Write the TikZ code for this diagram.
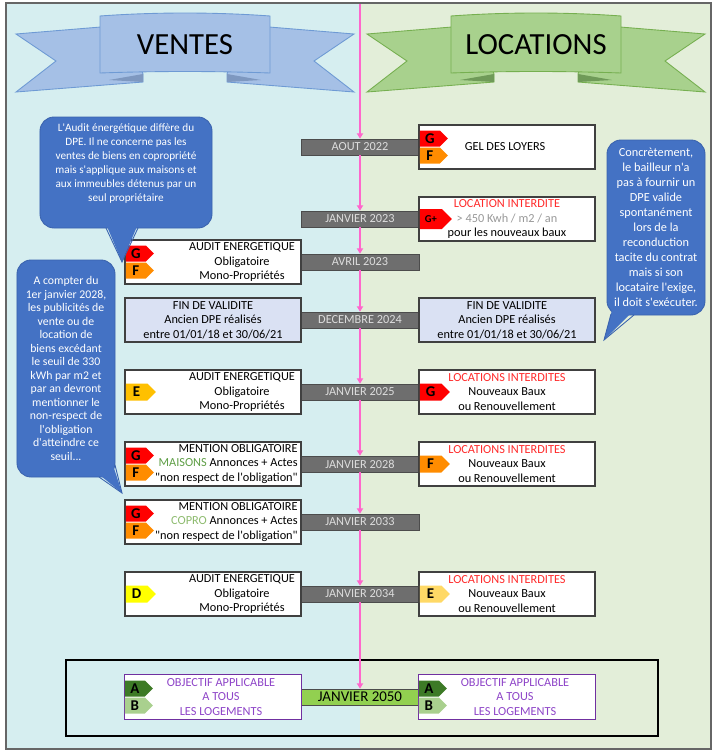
\documentclass[tikz,border=0pt]{standalone}
\usepackage{fontspec}
\setmainfont{Carlito}[Ligatures=TeXOff]
\usetikzlibrary{arrows.meta,calc,shapes.symbols}
\definecolor{fondV}{HTML}{D6EEF0}
\definecolor{fondL}{HTML}{E3EED9}
\definecolor{rubanV}{HTML}{A5C0E6}
\definecolor{rubanVb}{HTML}{6E9AD4}
\definecolor{rubanVs}{HTML}{7E98C0}
\definecolor{rubanL}{HTML}{A8D18D}
\definecolor{rubanLb}{HTML}{76AF50}
\definecolor{rubanLs}{HTML}{6F9A58}
\definecolor{bleubulle}{HTML}{4472C4}
\definecolor{bleubord}{HTML}{3A63AE}
\definecolor{rose}{HTML}{FF66CC}
\definecolor{grisbarre}{HTML}{6E6E6E}
\definecolor{grisclair}{HTML}{DDDDDD}
\definecolor{lavande}{HTML}{DAE1F3}
\definecolor{classeG}{HTML}{FF0000}
\definecolor{classeF}{HTML}{FF8C00}
\definecolor{classeE}{HTML}{FFC000}
\definecolor{classeEc}{HTML}{FFD966}
\definecolor{classeD}{HTML}{FFFF00}
\definecolor{classeA}{HTML}{3D7A26}
\definecolor{classeB}{HTML}{A9D08E}
\definecolor{violetobj}{HTML}{7030A0}
\definecolor{violettxt}{HTML}{8E44C8}
\definecolor{rouge}{HTML}{FF2A2A}
\definecolor{vertM}{HTML}{5E9E45}
\definecolor{vertC}{HTML}{8DBB6E}
\definecolor{vert50}{HTML}{92D050}
\tikzset{
  fiche/.style={draw=black!75,fill=white,line width=0.6pt,minimum width=35.2mm,minimum height=8.8mm,inner sep=0pt},
  objectif/.style={fiche,draw=violetobj,line width=1.1pt,minimum width=35.4mm,minimum height=9mm},
  texte/.style={align=center,font=\fontsize{7}{8.2}\selectfont,inner sep=0pt},
  barredate/.style={draw=black!70,fill=grisbarre,text=grisclair,minimum width=23.6mm,minimum height=3.2mm,
                    inner sep=0pt,font=\fontsize{7}{7}\selectfont},
  classe/.style={signal,signal to=east,signal pointer angle=90,anchor=west,minimum width=5.6mm,minimum height=3.2mm,
                 inner sep=0pt,font=\fontsize{8.5}{8.5}\selectfont\bfseries},
  seule/.style={minimum width=6mm,minimum height=3.4mm},
  bulle/.style={fill=bleubulle,draw=bleubord,line width=0.5pt,rounded corners=2.8mm,text=white,align=center,inner sep=0pt},
  fleche/.style={rose,line width=0.7pt,-{Triangle[length=3pt,width=3.5pt]}},
}
\begin{document}
\begin{tikzpicture}[x=0.2mm,y=-0.2mm]
  \useasboundingbox (0,0) rectangle (715,751);
  % fonds
  \fill[fondV] (6,3) rectangle (360,749);
  \fill[fondL] (360,3) rectangle (711,749);
  \draw[black!60,line width=0.8pt] (6,3) rectangle (711,749);

  % rubans
  \foreach \cx/\fo/\bo/\so/\mot in {185/rubanV/rubanVb/rubanVs/VENTES,536/rubanL/rubanLb/rubanLs/LOCATIONS}{
    \begin{scope}[shift={(\cx,0)}]
      \foreach \s in {1,-1}{
        \draw[fill=\fo,draw=\bo,line width=0.5pt,xscale=\s] (-169,34) -- (-60,25) -- (-42,74) -- (-42,82)
          -- (-169,92) -- (-129,61) -- cycle;
        \fill[\so,xscale=\s] (-76,80) -- (-42,74) -- (-42,82) -- cycle;
      }
      \draw[fill=\fo,draw=\bo,line width=0.5pt] (-85,16) .. controls (-30,12) and (30,12) .. (85,16)
        -- (85,73) .. controls (30,71) and (-30,71) .. (-85,73) -- cycle;
      \node[font=\fontsize{17.5}{17.5}\selectfont] (titre\mot) at (0,45) {\mot};
    \end{scope}}

  % cadre 2050
  \draw[line width=0.9pt] (66,660) rectangle (658,736);

  % dates
  \foreach \y/\t [count=\i] in {147/AOUT 2022,219/JANVIER 2023,262/AVRIL 2023,320/DECEMBRE 2024,
                                392/JANVIER 2025,464/JANVIER 2028,522/JANVIER 2033,594/JANVIER 2034}
    \node[barredate] (d\i) at (360,\y) {\t};
  \node[barredate,fill=vert50,text=black,font=\fontsize{8.5}{8.5}\selectfont,minimum width=23.4mm] (d9) at (360,697) {JANVIER 2050};

  % ligne du temps
  \coordinate (haut) at (360,4);
  \draw[fleche] (haut) -- (d1.north);
  \foreach \i [count=\j from 2] in {1,...,8}
    \draw[fleche] (d\i.south) -- (d\j.north);

  % aout 2022
  \node[fiche] (r1) at (507,147) {};
  \node[classe,fill=classeG] (r1g) at ($(r1.west)+(1,-8.5)$) {G};
  \node[classe,fill=classeF] (r1f) at ($(r1.west)+(1,8.5)$) {F};
  \node[texte] (r1t) at (505,147) {GEL DES LOYERS};

  % janvier 2023
  \node[fiche] (r2) at (507,219) {};
  \node[classe,fill=classeG,minimum width=6.4mm,minimum height=4mm,font=\fontsize{6}{6}\selectfont\bfseries] (r2g)
    at ($(r2.west)+(1,0)$) {G+};
  \node[texte] (r2t) at (507,219) {\textcolor{rouge}{LOCATION INTERDITE}\\\textcolor{black!40}{> 450 Kwh / m2 / an}\\pour les nouveaux baux};

  % avril 2023
  \node[fiche] (l3) at (213,262) {};
  \node[classe,fill=classeG] (l3g) at ($(l3.west)+(1,-8.5)$) {G};
  \node[classe,fill=classeF] (l3f) at ($(l3.west)+(1,8.5)$) {F};
  \node[texte] (l3t) at (242,262) {AUDIT ENERGETIQUE\\Obligatoire\\Mono-Propriétés};

  % decembre 2024
  \node[fiche,fill=lavande] (l4) at (213,320) {};
  \node[texte] (l4t) at (213,320) {FIN DE VALIDITE\\Ancien DPE réalisés\\entre 01/01/18 et 30/06/21};
  \node[fiche,fill=lavande] (r4) at (507,320) {};
  \node[texte] (r4t) at (507,320) {FIN DE VALIDITE\\Ancien DPE réalisés\\entre 01/01/18 et 30/06/21};

  % janvier 2025
  \node[fiche] (l5) at (213,392) {};
  \node[classe,seule,fill=classeE] (l5e) at ($(l5.west)+(1,0)$) {E};
  \node[texte] (l5t) at (242,392) {AUDIT ENERGETIQUE\\Obligatoire\\Mono-Propriétés};
  \node[fiche] (r5) at (507,392) {};
  \node[classe,seule,fill=classeG] (r5g) at ($(r5.west)+(1,0)$) {G};
  \node[texte] (r5t) at (507,392) {\textcolor{rouge}{LOCATIONS INTERDITES}\\Nouveaux Baux\\ou Renouvellement};

  % janvier 2028
  \node[fiche] (l6) at (213,464) {};
  \node[classe,fill=classeG] (l6g) at ($(l6.west)+(1,-8.5)$) {G};
  \node[classe,fill=classeF] (l6f) at ($(l6.west)+(1,8.5)$) {F};
  \node[texte,align=right,anchor=east] (l6t) at (298,464) {MENTION OBLIGATOIRE\\\textcolor{vertM}{MAISONS} Annonces + Actes\\"non respect de l'obligation"};
  \node[fiche] (r6) at (507,464) {};
  \node[classe,seule,fill=classeF] (r6f) at ($(r6.west)+(1,0)$) {F};
  \node[texte] (r6t) at (507,464) {\textcolor{rouge}{LOCATIONS INTERDITES}\\Nouveaux Baux\\ou Renouvellement};

  % janvier 2033
  \node[fiche] (l7) at (213,522) {};
  \node[classe,fill=classeG] (l7g) at ($(l7.west)+(1,-8.5)$) {G};
  \node[classe,fill=classeF] (l7f) at ($(l7.west)+(1,8.5)$) {F};
  \node[texte,align=right,anchor=east] (l7t) at (298,522) {MENTION OBLIGATOIRE\\\textcolor{vertC}{COPRO} Annonces + Actes\\"non respect de l'obligation"};

  % janvier 2034
  \node[fiche] (l8) at (213,594) {};
  \node[classe,seule,fill=classeD] (l8d) at ($(l8.west)+(1,0)$) {D};
  \node[texte] (l8t) at (242,594) {AUDIT ENERGETIQUE\\Obligatoire\\Mono-Propriétés};
  \node[fiche] (r8) at (507,594) {};
  \node[classe,seule,fill=classeEc] (r8e) at ($(r8.west)+(1,0)$) {E};
  \node[texte] (r8t) at (507,594) {\textcolor{rouge}{LOCATIONS INTERDITES}\\Nouveaux Baux\\ou Renouvellement};

  % janvier 2050
  \foreach \cx/\nom in {213/l9,507/r9}{
    \node[objectif] (\nom) at (\cx,697) {};
    \node[classe,fill=classeA] (\nom a) at ($(\nom.west)+(1,-8.5)$) {A};
    \node[classe,fill=classeB] (\nom b) at ($(\nom.west)+(1,8.5)$) {B};
    \node[texte,text=violettxt,font=\fontsize{7}{8.5}\selectfont] (\nom t) at (\cx+8,697) {OBJECTIF APPLICABLE\\A TOUS\\LES LOGEMENTS};
  }

  % bulles
  \node[bulle,minimum width=34.4mm,minimum height=22.2mm,font=\fontsize{6.4}{8}\selectfont] (b1) at (126,172.5)
    {L'Audit énergétique diffère du\\DPE. Il ne concerne pas les\\ventes de biens en copropriété\\mais s'applique aux maisons et\\aux immeubles détenus par un\\seul propriétaire\\[1.2mm]};
  \coordinate (b1p) at (122,262);
  \fill[bleubulle] (106,224) -- (b1p) -- (138,224) -- cycle;
  \draw[bleubord,line width=0.5pt] (106,228) -- (b1p) -- (138,228);

  \node[bulle,minimum width=19.6mm,minimum height=35mm,font=\fontsize{7}{8.5}\selectfont] (b2) at (656,227.5)
    {Concrètement,\\le bailleur n'a\\pas à fournir un\\DPE valide\\spontanément\\lors de la\\reconduction\\tacite du contrat\\mais si son\\locataire l'exige,\\il doit s'exécuter.};
  \coordinate (b2p) at (604,340);
  \fill[bleubulle] (612,310) -- (b2p) -- (634,310) -- cycle;
  \draw[bleubord,line width=0.5pt] (611,314) -- (b2p) -- (634,315);

  \node[bulle,minimum width=19.6mm,minimum height=43.4mm,font=\fontsize{6.7}{7.7}\selectfont] (b3) at (66,368.5)
    {A compter du\\1er janvier 2028,\\les publicités de\\vente ou de\\location de\\biens excédant\\le seuil de 330\\kWh par m2 et\\par an devront\\mentionner le\\non-respect de\\l'obligation\\d'atteindre ce\\seuil...};
  \coordinate (b3p) at (122,493);
  \fill[bleubulle] (96,472) -- (b3p) -- (112,462) -- cycle;
  \draw[bleubord,line width=0.5pt] (99,477) -- (b3p) -- (115,465);
\end{tikzpicture}
\end{document}
